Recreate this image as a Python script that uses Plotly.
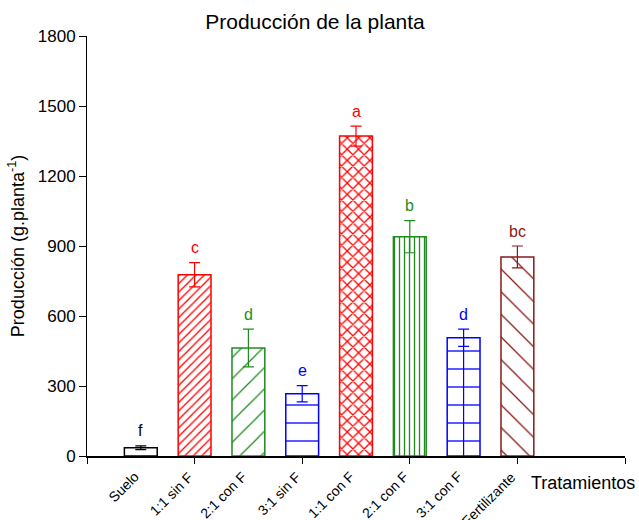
import plotly.graph_objects as go

# Treatments, mean production (g/plant), standard error and significance letters
tratamientos = ["Suelo", "1:1 sin F", "2:1 con F", "3:1 sin F",
                "1:1 con F", "2:1 con F", "3:1 con F", "Fertilizante"]
produccion = [35, 777, 463, 267, 1371, 940, 507, 853]
error = [8, 52, 81, 35, 43, 69, 37, 47]
letras = ["f", "c", "d", "e", "a", "b", "d", "bc"]

# Styling per treatment
RED, GREEN, BLUE, MAROON = "#FF0000", "#1E8C1E", "#0000FF", "#8B1A1A"
colores = ["#000000", RED, GREEN, BLUE, RED, GREEN, BLUE, MAROON]
tramas = ["", "/", "/", "-", "x", "|", "-", "\\"]
tam_trama = [8, 6, 15, 18, 8, 5, 18, 16]

FONT = "Arial, Liberation Sans, sans-serif"
posiciones = list(range(1, len(tratamientos) + 1))
ANCHO = 0.61


def solidez(forma, size, lw=1.3):
    if forma in ("x", "+"):
        return 1 - (1 - lw / size) ** 2
    return lw / size


fig = go.Figure()
for x, v, e, c, t, s in zip(posiciones, produccion, error, colores, tramas, tam_trama):
    pattern = dict(shape=t, fgcolor=c, bgcolor="white", size=s, fgopacity=1,
                   solidity=solidez(t, s) if t else 0.3, fillmode="overlay")
    fig.add_trace(go.Bar(
        x=[x], y=[v], width=ANCHO,
        marker=dict(color="white", line=dict(color=c, width=1.5), pattern=pattern),
        error_y=dict(type="data", array=[e], visible=True, color=c,
                     thickness=1.2, width=5.5),
        showlegend=False, hoverinfo="skip",
    ))

# 3:1 con F bar carries a single vertical rule down its middle
i_grid = tratamientos.index("3:1 con F")
fig.add_trace(go.Scatter(
    x=[posiciones[i_grid]] * 2, y=[0, produccion[i_grid]], mode="lines",
    line=dict(color=colores[i_grid], width=1.2),
    showlegend=False, hoverinfo="skip",
))

annotations = []
# significance letters above each error bar
for x, v, e, c, l in zip(posiciones, produccion, error, colores, letras):
    annotations.append(dict(x=x, y=v + e, xref="x", yref="y", text=l,
                            showarrow=False, yshift=15, yanchor="middle",
                            font=dict(family=FONT, size=16, color=c)))
# rotated treatment names under the bars
for x, name in zip(posiciones, tratamientos):
    annotations.append(dict(x=x, y=0, xref="x", yref="paper", text=name,
                            showarrow=False, textangle=-45, xanchor="right",
                            yanchor="top", xshift=4, yshift=-10,
                            font=dict(family=FONT, size=14, color="black")))
annotations.append(dict(x=1, y=0, xref="paper", yref="paper", text="Tratamientos",
                        showarrow=False, xanchor="right", yanchor="middle",
                        xshift=12, yshift=-27,
                        font=dict(family=FONT, size=18, color="black")))

fig.update_layout(
    width=639, height=520,
    margin=dict(l=87, r=14, t=36, b=64),
    plot_bgcolor="white", paper_bgcolor="white",
    barmode="overlay",
    title=dict(text="Producción de la planta", x=0.493, xanchor="center",
               y=1 - 22 / 520, yanchor="middle",
               font=dict(family=FONT, size=21, color="black")),
    xaxis=dict(range=[0, 10], tickvals=[0, 2, 4, 6, 8, 10], showticklabels=False,
               ticks="outside", ticklen=6, tickcolor="black", showline=True,
               linecolor="black", linewidth=1.5, showgrid=False, zeroline=False,
               fixedrange=True),
    yaxis=dict(range=[0, 1800], tickvals=[0, 300, 600, 900, 1200, 1500, 1800],
               ticks="outside", ticklen=7, tickcolor="black", showline=True,
               linecolor="black", linewidth=1, showgrid=False, zeroline=False,
               tickfont=dict(family=FONT, size=17, color="black"),
               title=dict(text="Producción (g.planta<sup>-1</sup>)", standoff=8,
                          font=dict(family=FONT, size=18, color="black")),
               fixedrange=True),
    annotations=annotations,
    font=dict(family=FONT),
)

fig.write_html("out.html")
